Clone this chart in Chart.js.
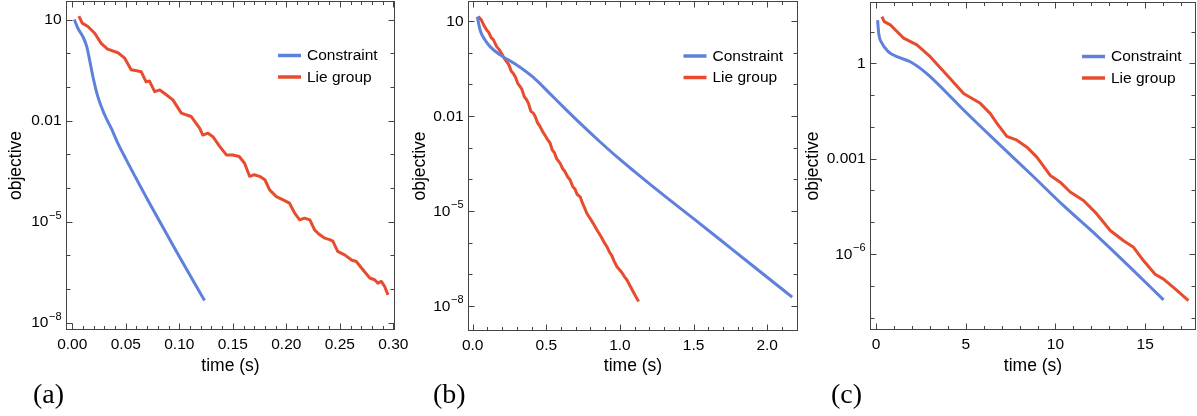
<!DOCTYPE html>
<html><head><meta charset="utf-8">
<script src="https://cdn.jsdelivr.net/npm/chart.js@4.4.0/dist/chart.umd.min.js"></script>
<style>
html,body{margin:0;padding:0;background:#fff;width:1197px;height:416px;overflow:hidden;position:relative}
canvas{position:absolute;top:0}
.lab{position:absolute;font-family:"Liberation Serif",serif;font-size:28px;line-height:28px;color:#000;top:380px}
</style></head><body>
<canvas id="ca" width="420" height="416" style="left:0px"></canvas>
<canvas id="cb" width="420" height="416" style="left:400px"></canvas>
<canvas id="cc" width="400" height="416" style="left:797px"></canvas>
<div class="lab" style="left:33px">(a)</div>
<div class="lab" style="left:433px">(b)</div>
<div class="lab" style="left:831px">(c)</div>
<script>
// ---------- data ----------
const seriesNames = ['Constraint', 'Lie group'];

// panel (a)
const tConA = [0.0019,0.0052,0.0099,0.0136,0.0162,0.0193,0.0239,0.0302,0.0364,0.0423,0.0505,0.0722,0.0972,0.1236];
const conA  = [10,5.5,3.1,1.55,0.63,0.2,0.051,0.0148,0.0059,0.0022,6.8e-4,3.5e-5,1.3e-6,4.5e-8];
const tLieA = [0.0062,0.0093,0.0146,0.021,0.027,0.033,0.0427,0.049,0.055,0.060,0.0645,0.069,0.072,0.077,0.0818,0.0878,0.094,0.1019,0.111,0.119,0.122,0.1268,0.1314,0.1377,0.144,0.150,0.156,0.161,0.1657,0.170,0.175,0.180,0.1844,0.1907,0.197,0.203,0.2078,0.2125,0.217,0.222,0.2265,0.231,0.236,0.2405,0.2435,0.248,0.2545,0.261,0.2654,0.2716,0.278,0.2825,0.2856,0.2888,0.2919,0.295];
const lieA  = [12.6,7.8,6.2,3.9,1.95,1.32,1.03,0.71,0.32,0.30,0.28,0.14,0.15,0.072,0.081,0.058,0.041,0.0166,0.0132,5.9e-3,3.7e-3,4.2e-3,3.3e-3,1.7e-3,9.5e-4,9.5e-4,8.5e-4,5.4e-4,2.2e-4,2.45e-4,2.2e-4,1.74e-4,8.7e-5,5.5e-5,4.4e-5,3.5e-5,1.78e-5,1.12e-5,1.26e-5,1.12e-5,5.6e-6,4.1e-6,3.2e-6,2.9e-6,2.6e-6,1.3e-6,1.02e-6,7.2e-7,6.5e-7,3.7e-7,2.1e-7,1.86e-7,1.48e-7,1.66e-7,1.17e-7,6.6e-8];
const xTicksA = [0,0.05,0.10,0.15,0.20,0.25,0.30];
const xLabelsA = ['0.00','0.05','0.10','0.15','0.20','0.25','0.30'];
const yTicksA = [10,0.01,1e-5,1e-8];
const yLabelsA = ['10','0.01','10^\u22125','10^\u22128'];

// panel (b)
const tConB = [0.031,0.05,0.084,0.118,0.186,0.299,0.412,0.526,0.639,0.752,0.866,0.98,1.093,1.32,1.5,1.773,2.0,2.17];
const conB  = [13.8,5.2,2.5,1.55,0.85,0.41,0.166,0.050,0.0151,4.7e-3,1.51e-3,5.1e-4,1.86e-4,2.6e-5,5.75e-6,5.6e-7,8.1e-8,1.9e-8];
const tLieB = [0.038,0.06,0.075,0.095,0.11,0.125,0.14,0.163,0.18,0.195,0.208,0.23,0.245,0.262,0.276,0.29,0.305,0.322,0.335,0.35,0.367,0.38,0.395,0.412,0.425,0.44,0.458,0.475,0.49,0.505,0.526,0.54,0.555,0.57,0.594,0.61,0.625,0.645,0.662,0.68,0.695,0.71,0.73,0.745,0.76,0.775,0.79,0.81,0.825,0.844,0.86,0.875,0.895,0.912,0.93,0.945,0.96,0.98,1.0,1.015,1.03,1.048,1.07,1.09,1.11,1.127];
const lieB  = [13.8,10.5,7.4,5.2,4.3,3.0,2.6,1.55,1.25,0.95,0.74,0.52,0.42,0.26,0.22,0.17,0.11,0.085,0.068,0.041,0.032,0.024,0.014,0.0123,0.0095,0.0062,0.0046,0.0032,0.0025,0.0019,0.00138,0.00085,0.00069,0.00045,0.00032,0.00022,0.00018,0.00012,9.5e-5,5.8e-5,4.9e-5,3.3e-5,2.8e-5,1.8e-5,1.25e-5,8.5e-6,6.6e-6,4.7e-6,3.6e-6,2.5e-6,1.9e-6,1.45e-6,9.8e-7,7.4e-7,4.9e-7,3.9e-7,2.6e-7,1.74e-7,1.35e-7,1.1e-7,8.5e-8,6.6e-8,4.2e-8,2.8e-8,1.9e-8,1.38e-8];
const xTicksB = [0,0.5,1.0,1.5,2.0];
const xLabelsB = ['0.0','0.5','1.0','1.5','2.0'];
const yTicksB = [10,0.01,1e-5,1e-8];
const yLabelsB = ['10','0.01','10^\u22125','10^\u22128'];

// panel (c)
const tConC = [0.09,0.15,0.33,0.7,1.17,1.91,2.47,3.02,4.88,6.74,8.59,10.45,12.3,14.16,16.02];
const conC  = [23,8.9,4.3,2.3,1.62,1.12,0.69,0.38,0.034,3.3e-3,3.4e-4,3.3e-5,3.8e-6,3.8e-7,3.6e-8];
const tLieC = [0.33,0.46,0.8,1.17,1.54,2.28,3.02,3.95,4.88,5.81,6.37,6.74,7.29,7.85,8.41,8.96,9.71,10.26,10.82,11.56,12.3,13.05,13.79,14.35,14.9,15.55,16.02,16.57,17.41];
const lieC  = [29.5,20.4,16.2,10,6.2,3.8,1.62,0.43,0.112,0.055,0.026,0.0129,5.0e-3,3.8e-3,2.3e-3,1.12e-3,2.95e-4,1.82e-4,8.9e-5,4.8e-5,1.82e-5,5.5e-6,2.6e-6,1.62e-6,6.2e-7,2.3e-7,1.62e-7,8.9e-8,3.4e-8];
const xTicksC = [0,5,10,15];
const xLabelsC = ['0','5','10','15'];
const yTicksC = [1,0.001,1e-6];
const yLabelsC = ['1','0.001','10^\u22126'];

const decades = [1e-8,1e-7,1e-6,1e-5,1e-4,1e-3,1e-2,1e-1,1,10];
const xTitle = 'time (s)';
const yTitle = 'objective';

// ---------- styling ----------
const BLUE = 'rgb(94,129,219)';
const RED = 'rgb(232,76,46)';
const FRAME = '#444444';
const SANS = '"Liberation Sans", Arial, sans-serif';
const FS = 15.5;

function near(a, b){ return Math.abs(Math.log10(a) - Math.log10(b)) < 1e-6; }
function xnear(a,b){ return Math.abs(a-b) < 1e-9; }

function makePanel(id, p){
  const pts = (ts, vs) => ts.map((t,i)=>({x:t, y:vs[i]}));
  const deco = {
    id:'deco_'+id,
    afterDraw(chart){
      const {ctx, chartArea:a, scales:{x, y}} = chart;
      ctx.save();
      ctx.strokeStyle = FRAME; ctx.lineWidth = 1;
      ctx.strokeRect(a.left, a.top, a.right-a.left, a.bottom-a.top);
      ctx.beginPath();
      for (const v of decades){
        if (v < p.yMin || v > p.yMax) continue;
        const py = Math.round(y.getPixelForValue(v)) + 0.5;
        const L = p.yTicks.some(t=>near(t,v)) ? 6 : 4;
        ctx.moveTo(a.left, py); ctx.lineTo(a.left+L, py);
        ctx.moveTo(a.right, py); ctx.lineTo(a.right-L, py);
      }
      const step = (p.xTicks[1]-p.xTicks[0])/5;
      for (let k=0; k<200; k++){
        const v = p.xTicks[0] + k*step;
        if (v > p.xMax) break;
        const px = Math.round(x.getPixelForValue(v)) + 0.5;
        const L = (k%5===0) ? 6 : 3.5;
        ctx.moveTo(px, a.bottom); ctx.lineTo(px, a.bottom-L);
        ctx.moveTo(px, a.top); ctx.lineTo(px, a.top+L);
      }
      ctx.stroke();
      ctx.fillStyle = '#000';
      // y tick labels (with superscript exponents)
      ctx.textBaseline = 'middle';
      p.yTicks.forEach((v, i) => {
        const py = y.getPixelForValue(v);
        const lab = p.yLabels[i];
        const xr = a.left - 5;
        const parts = lab.split('^');
        if (parts.length === 2){
          ctx.font = '11px ' + SANS;
          const we = ctx.measureText(parts[1]).width;
          ctx.textAlign = 'right';
          ctx.fillText(parts[1], xr, py - 6);
          ctx.font = FS + 'px ' + SANS;
          ctx.fillText(parts[0], xr - we - 0.5, py + 0.5);
        } else {
          ctx.font = FS + 'px ' + SANS;
          ctx.textAlign = 'right';
          ctx.fillText(lab, xr, py + 0.5);
        }
      });
      // titles
      ctx.font = '17.5px ' + SANS;
      ctx.textAlign = 'center'; ctx.textBaseline = 'middle';
      ctx.fillText(xTitle, (a.left+a.right)/2, 366);
      ctx.save();
      ctx.translate(p.objX, (a.top+a.bottom)/2);
      ctx.rotate(-Math.PI/2);
      ctx.fillText(yTitle, 0, 0);
      ctx.restore();
      // legend
      ctx.font = FS + 'px ' + SANS;
      ctx.textAlign = 'left';
      chart.data.datasets.forEach((ds, i) => {
        const ly = p.legY[i];
        const lx = a.right - p.legDX;
        ctx.strokeStyle = ds.borderColor; ctx.lineWidth = 3.5; ctx.lineCap = 'butt';
        ctx.beginPath(); ctx.moveTo(lx, ly); ctx.lineTo(lx+23, ly); ctx.stroke();
        ctx.fillStyle = '#000';
        ctx.fillText(ds.label, lx+29, ly+0.5);
      });
      ctx.restore();
    }
  };
  return new Chart(document.getElementById(id), {
    type: 'line',
    data: { datasets: [
      { label: seriesNames[0], data: pts(p.tCon, p.con), borderColor: BLUE, borderWidth: 3, pointRadius: 0, cubicInterpolationMode: 'monotone', tension: 0.4 },
      { label: seriesNames[1], data: pts(p.tLie, p.lie), borderColor: RED, borderWidth: 3, pointRadius: 0, tension: 0, borderJoinStyle: 'round' }
    ]},
    options: {
      responsive: false, animation: false, devicePixelRatio: 1,
      layout: { autoPadding: false, padding: { left: 0, top: p.padTop, right: p.padRight, bottom: p.padBottom } },
      plugins: { legend: { display: false }, tooltip: { enabled: false } },
      scales: {
        x: {
          type: 'linear', min: p.xMin, max: p.xMax,
          grid: { display: false, drawTicks: false }, border: { display: false },
          afterBuildTicks: s => { s.ticks = p.xTicks.map(v => ({ value: v })); },
          afterFit: s => { s.height = 40; s.paddingLeft = 0; s.paddingRight = 0; s.paddingTop = 0; s.paddingBottom = 0; },
          ticks: { autoSkip: false, maxRotation: 0, padding: 6, color: '#000', font: { family: SANS, size: FS },
            callback: v => { const i = p.xTicks.findIndex(t => xnear(t, v)); return i >= 0 ? p.xLabels[i] : ''; } }
        },
        y: {
          type: 'logarithmic', min: p.yMin, max: p.yMax,
          grid: { display: false, drawTicks: false }, border: { display: false },
          afterBuildTicks: s => { s.ticks = p.yTicks.map(v => ({ value: v })); },
          afterFit: s => { s.width = p.yWidth; s.paddingLeft = 0; s.paddingRight = 0; s.paddingTop = 0; s.paddingBottom = 0; },
          ticks: { display: false }
        }
      }
    },
    plugins: [deco]
  });
}

makePanel('ca', {
  tCon: tConA, con: conA, tLie: tLieA, lie: lieA,
  xTicks: xTicksA, xLabels: xLabelsA, yTicks: yTicksA, yLabels: yLabelsA,
  xMin: -0.0054, xMax: 0.3011, yMin: 6.2e-9, yMax: 34.3,
  padTop: 1.5, padRight: 25.5, padBottom: 46.5, yWidth: 66.5,
  objX: 16.5, legDX: 116.5, legY: [55.5, 77]
});
makePanel('cb', {
  tCon: tConB, con: conB, tLie: tLieB, lie: lieB,
  xTicks: xTicksB, xLabels: xLabelsB, yTicks: yTicksB, yLabels: yLabelsB,
  xMin: -0.0286, xMax: 2.206, yMin: 1.68e-9, yMax: 41.3,
  padTop: 1.5, padRight: 22.5, padBottom: 45.5, yWidth: 68.5,
  objX: 20, legDX: 114, legY: [56, 77.5]
});
makePanel('cc', {
  tCon: tConC, con: conC, tLie: tLieC, lie: lieC,
  xTicks: xTicksC, xLabels: xLabelsC, yTicks: yTicksC, yLabels: yLabelsC,
  xMin: -0.306, xMax: 17.80, yMin: 4.2e-9, yMax: 81.9,
  padTop: 2.5, padRight: 1.5, padBottom: 46.5, yWidth: 73.5,
  objX: 16, legDX: 113.5, legY: [56.5, 78]
});
</script>
</body></html>
